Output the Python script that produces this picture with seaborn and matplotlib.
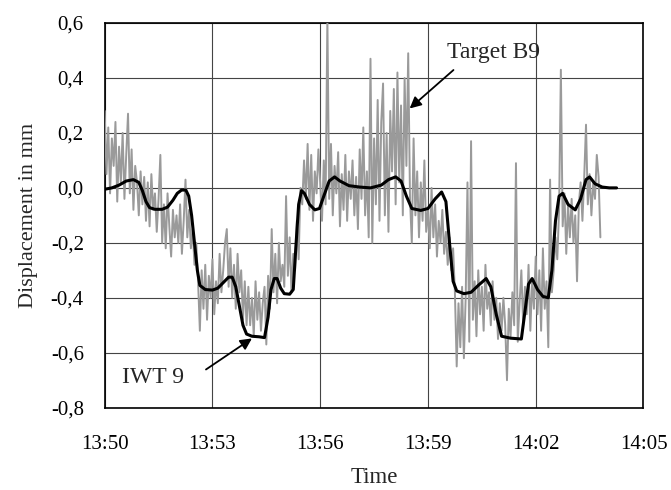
import pandas as pd
import numpy as np
import matplotlib
matplotlib.use('Agg')
import matplotlib.pyplot as plt
import matplotlib.dates as mdates
from matplotlib.ticker import FuncFormatter
import seaborn as sns

##### データ (Target B9: 3秒ごとの読み取り値, 1行 = 1分)
b9_step_sec = 3
b9_values = [
    0.28, 0.05, 0.22, -0.02, 0.18, 0.08, 0.24, -0.05, 0.15, 0.02, 0.20, -0.04, 0.12, 0.27, -0.02, 0.14, -0.08, 0.08, 0.02, -0.10,
    0.06, -0.06, 0.04, -0.12, 0.02, -0.14, 0.05, -0.08, -0.02, -0.16, -0.04, 0.12, -0.20, -0.06, -0.22, -0.02, -0.14, -0.25, -0.08, -0.18,
    -0.10, -0.20, -0.06, -0.24, -0.12, 0.03, -0.18, -0.08, -0.22, -0.15, -0.28, -0.20, -0.34, -0.52, -0.30, -0.44, -0.28, -0.48, -0.32, -0.40,
    -0.26, -0.46, -0.34, -0.42, -0.24, -0.38, -0.30, -0.20, -0.15, -0.36, -0.22, -0.40, -0.28, -0.44, -0.24, -0.38, -0.30, -0.48, -0.34, -0.50,
    -0.36, -0.50, -0.40, -0.54, -0.34, -0.48, -0.38, -0.52, -0.42, -0.36, -0.57, -0.32, -0.44, -0.15, -0.38, -0.24, -0.42, -0.20, -0.34, -0.28,
    -0.36, -0.03, -0.32, -0.18, -0.38, -0.24, -0.30, -0.12, -0.26, 0.00, -0.06, 0.10, -0.04, 0.16, -0.08, 0.12, -0.12, 0.06, -0.02, 0.14,
    0.02, -0.12, 0.10, -0.06, 0.62, -0.04, 0.16, -0.10, 0.08, -0.02, 0.13, -0.14, 0.05, -0.08, 0.12, -0.12, 0.06, -0.04, 0.10, -0.10,
    0.04, -0.15, 0.14, -0.04, 0.22, -0.10, 0.06, -0.18, 0.47, -0.20, 0.18, -0.06, 0.32, -0.12, 0.24, 0.38, -0.10, 0.20, -0.16, 0.28,
    0.06, 0.36, -0.06, 0.42, 0.02, 0.30, -0.10, 0.40, 0.08, 0.49, -0.04, -0.20, 0.18, -0.10, 0.06, -0.18, 0.02, -0.12, 0.10, -0.16,
    -0.08, -0.22, 0.00, -0.18, -0.06, -0.25, -0.12, -0.20, -0.08, -0.24, -0.16, -0.28, -0.18, -0.30, -0.22, -0.38, -0.65, -0.42, -0.58, -0.36,
    -0.62, -0.40, 0.02, -0.56, 0.17, -0.48, -0.34, -0.54, -0.30, -0.46, -0.36, -0.52, -0.28, -0.44, -0.38, -0.50, -0.34, -0.48, -0.40, -0.55,
    -0.42, -0.52, -0.40, -0.50, -0.70, -0.44, -0.54, -0.38, -0.50, 0.09, -0.56, -0.42, -0.30, -0.50, -0.36, -0.46, -0.28, -0.52, -0.34, -0.44,
    -0.25, -0.46, -0.30, -0.52, -0.22, -0.44, -0.34, -0.58, 0.03, -0.38, -0.30, -0.18, -0.26, -0.08, 0.43, -0.14, -0.02, -0.24, -0.06, -0.18,
    -0.04, -0.20, -0.10, -0.34, -0.06, 0.02, -0.12, 0.04, 0.23, -0.06, 0.05, -0.10, 0.02, -0.04, 0.12, 0.04, -0.18,
]

##### データ (IWT 9: 13:50からの経過分, 変位mm)
iwt_min = [0.0, 0.2, 0.4, 0.6, 0.8, 0.95, 1.05, 1.15, 1.25, 1.4, 1.6, 1.75, 1.9, 2.02, 2.14, 2.26,
           2.34, 2.42, 2.5, 2.58, 2.65, 2.8, 3.0, 3.15, 3.3, 3.45, 3.55, 3.65, 3.75, 3.85, 3.95,
           4.1, 4.3, 4.45, 4.55, 4.63, 4.72, 4.8, 4.9, 5.0, 5.15, 5.25, 5.32, 5.4, 5.48, 5.56,
           5.7, 5.85, 5.98, 6.1, 6.25, 6.4, 6.55, 6.8, 7.1, 7.4, 7.7, 7.9, 8.1, 8.25, 8.4,
           8.55, 8.8, 9.0, 9.2, 9.38, 9.5, 9.6, 9.7, 9.8, 10.0, 10.2, 10.4, 10.62, 10.75, 10.9,
           11.05, 11.3, 11.6, 11.7, 11.8, 11.9, 12.05, 12.2, 12.35, 12.45, 12.55, 12.65, 12.75, 12.9, 13.1,
           13.25, 13.4, 13.5, 13.65, 13.85, 14.05, 14.25]
iwt_values = [-0.005, 0.0, 0.01, 0.025, 0.03, 0.02, -0.01, -0.05, -0.072, -0.078, -0.078, -0.07, -0.045, -0.02, -0.008, -0.008,
              -0.03, -0.1, -0.2, -0.3, -0.355, -0.37, -0.372, -0.365, -0.345, -0.325, -0.325, -0.36, -0.43, -0.5, -0.532,
              -0.54, -0.542, -0.545, -0.47, -0.37, -0.33, -0.33, -0.365, -0.385, -0.387, -0.37, -0.22, -0.06, -0.01, -0.02,
              -0.06, -0.08, -0.075, -0.03, 0.025, 0.04, 0.025, 0.008, 0.003, 0.0, 0.01, 0.03, 0.04, 0.025, -0.03,
              -0.075, -0.082, -0.075, -0.04, -0.015, -0.05, -0.2, -0.34, -0.375, -0.385, -0.38, -0.355, -0.33, -0.36, -0.46,
              -0.54, -0.547, -0.55, -0.45, -0.35, -0.33, -0.37, -0.395, -0.40, -0.3, -0.12, -0.03, -0.02, -0.06, -0.08,
              -0.04, 0.03, 0.04, 0.015, 0.003, 0.0, 0.0]

y_ticks = [-0.8, -0.6, -0.4, -0.2, 0.0, 0.2, 0.4, 0.6]

##### DataFrame化
base = pd.Timestamp('2000-01-01 13:50')
df_b9 = pd.DataFrame({
    'Time': base + pd.to_timedelta(np.arange(len(b9_values)) * b9_step_sec, unit='s'),
    'Displacement': b9_values,
})
df_iwt = pd.DataFrame({
    'Time': base + pd.to_timedelta(iwt_min, unit='m'),
    'Displacement': iwt_values,
})

##### 描画
sns.set_style('white')
plt.rcParams['font.family'] = ['Liberation Serif', 'DejaVu Serif']

fig = plt.figure(figsize=(6.71, 4.90), dpi=100)
ax = fig.add_axes([0.156, 0.168, 0.803, 0.785])

sns.lineplot(data=df_b9, x='Time', y='Displacement', color='#9a9a9a', linewidth=1.4,
             estimator=None, ax=ax, zorder=3)
sns.lineplot(data=df_iwt, x='Time', y='Displacement', color='black', linewidth=2.2,
             estimator=None, ax=ax, zorder=4)

ax.set_xlim(base, base + pd.Timedelta(minutes=15))
ax.set_ylim(-0.8, 0.6)
ax.xaxis.set_major_locator(mdates.MinuteLocator(interval=3))
ax.xaxis.set_major_formatter(mdates.DateFormatter('%H:%M'))
ax.set_yticks(y_ticks)
ax.yaxis.set_major_formatter(FuncFormatter(lambda v, p: f'{v:.1f}'.replace('.', ',').replace('-0,0', '0,0')))

ax.grid(True, color='#444444', linewidth=0.8)
ax.set_axisbelow(True)
for s in ax.spines.values():
    s.set_color('black')
    s.set_linewidth(1.2)
ax.tick_params(axis='both', direction='out', length=7, width=1.0, labelsize=15, colors='black')
ax.tick_params(axis='x', pad=13)
ax.tick_params(axis='y', pad=8)

ax.set_xlabel('Time', fontsize=16.5, labelpad=9)
ax.set_ylabel('Displacement in mm', fontsize=16, labelpad=9)

##### 注記
def t(m):
    return mdates.date2num(base + pd.Timedelta(minutes=m))

arrow = dict(arrowstyle='-|>', color='black', lw=1.3, mutation_scale=17, shrinkA=0, shrinkB=0)
ax.text(t(0.48), -0.69, 'IWT 9', fontsize=17, va='center', ha='left')
ax.annotate('', xy=(t(4.10), -0.548), xytext=(t(2.82), -0.661), arrowprops=arrow)
ax.text(t(9.53), 0.494, 'Target B9', fontsize=17, va='center', ha='left')
ax.annotate('', xy=(t(8.49), 0.289), xytext=(t(9.71), 0.429), arrowprops=arrow)

fig.savefig('out.png', dpi=100)
